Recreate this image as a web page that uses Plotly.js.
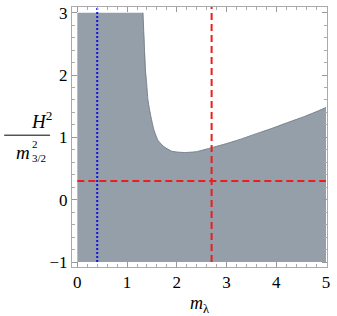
<!DOCTYPE html>
<html>
<head>
<meta charset="utf-8">
<script src="https://cdn.plot.ly/plotly-3.0.1.min.js"></script>
<style>html,body{margin:0;padding:0;background:#fff;}#plot{width:337px;height:316px;}</style>
</head>
<body>
<div id="plot"></div>
<script>
// Upper edge of the shaded region
const boundaryX = [1.32, 1.335, 1.35, 1.365, 1.39, 1.42, 1.45, 1.48, 1.54, 1.62, 1.70, 1.76, 1.89, 2.00, 2.16, 2.39, 2.70, 3.00, 3.30, 3.60, 3.90, 4.20, 4.55, 4.80, 5.00];
const boundaryY = [3.00, 2.70, 2.40, 2.10, 1.90, 1.60, 1.45, 1.33, 1.12, 0.955, 0.88, 0.84, 0.78, 0.765, 0.757, 0.77, 0.835, 0.90, 0.975, 1.06, 1.14, 1.23, 1.33, 1.41, 1.48];
const xMin = 0, xMax = 5, yMin = -1, yMax = 3;
const redX = [2.7];
const redY = [0.3];
const blueX = [0.4];
const xTicks = [0, 1, 2, 3, 4, 5];
const yTicks = [-1, 0, 1, 2, 3];

const serif = "Liberation Serif";

const fillTrace = {x: [xMin, xMin].concat(boundaryX, [xMax, xMin]), y: [yMin, yMax].concat(boundaryY, [yMin, yMin]), mode: 'lines', fill: 'toself', fillcolor: '#959fa9', line: {width: 0, color: 'rgba(0,0,0,0)'}, hoverinfo: 'skip'};
const edgeTrace = {x: boundaryX, y: boundaryY, mode: 'lines', line: {color: '#7b848d', width: 1, shape: 'spline', smoothing: 0.5}, hoverinfo: 'skip'};
const blueTrace = {x: [blueX[0], blueX[0]], y: [yMin, yMax + 0.3], mode: 'lines', line: {color: '#1010ee', width: 2, dash: '2px,2px'}};
const redV = {x: [redX[0], redX[0]], y: [yMin, yMax + 0.3], mode: 'lines', line: {color: '#ee1c1c', width: 2, dash: '7px,4px'}};
const redH = {x: [xMin, xMax], y: [redY[0], redY[0]], mode: 'lines', line: {color: '#ee1c1c', width: 2, dash: '7px,4px'}};

const axisCommon = {
  showgrid: false, zeroline: false, showline: true, linecolor: '#aaaaaa', linewidth: 1,
  mirror: 'allticks', ticks: 'inside', ticklen: 5, tickcolor: '#999999', tickwidth: 1,
  tickfont: {family: serif, size: 17, color: '#000'},
  minor: {dtick: 0.2, ticks: 'inside', ticklen: 3, tickcolor: '#aaaaaa', tickwidth: 1, showgrid: false}
};

const layout = {
  width: 337, height: 316,
  margin: {l: 72, r: 10, t: 7, b: 49},
  showlegend: false,
  font: {family: serif},
  plot_bgcolor: '#fff', paper_bgcolor: '#fff',
  xaxis: Object.assign({}, axisCommon, {range: [-0.107, 5.02], tickvals: xTicks, ticktext: xTicks.map(String),
    title: {text: '<i>m</i><sub>λ</sub>', font: {family: serif, size: 18, color: '#000'}, standoff: 8}}),
  yaxis: Object.assign({}, axisCommon, {range: [-1.08, 3.092], tickvals: yTicks, ticktext: yTicks.map(v => v < 0 ? '−' + Math.abs(v) : String(v))}),
  annotations: [
    {xref: 'paper', yref: 'paper', x: -0.168, y: 0.567, text: '<i>H</i><sup>2</sup>', showarrow: false, font: {family: serif, size: 19, color: '#000'}},
    {xref: 'paper', yref: 'paper', x: -0.228, y: 0.440, text: '<i>m</i>', showarrow: false, font: {family: serif, size: 19, color: '#000'}},
    {xref: 'paper', yref: 'paper', x: -0.163, xanchor: 'left', y: 0.448, text: '2<br>3/2', align: 'left', showarrow: false, font: {family: serif, size: 11, color: '#000'}}
  ],
  shapes: [
    {type: 'line', xref: 'paper', yref: 'paper', x0: -0.266, x1: -0.086, y0: 0.507, y1: 0.507, line: {color: '#000', width: 1}}
  ]
};

Plotly.newPlot('plot', [fillTrace, edgeTrace, blueTrace, redV, redH], layout, {displayModeBar: false, staticPlot: true});
</script>
</body>
</html>
